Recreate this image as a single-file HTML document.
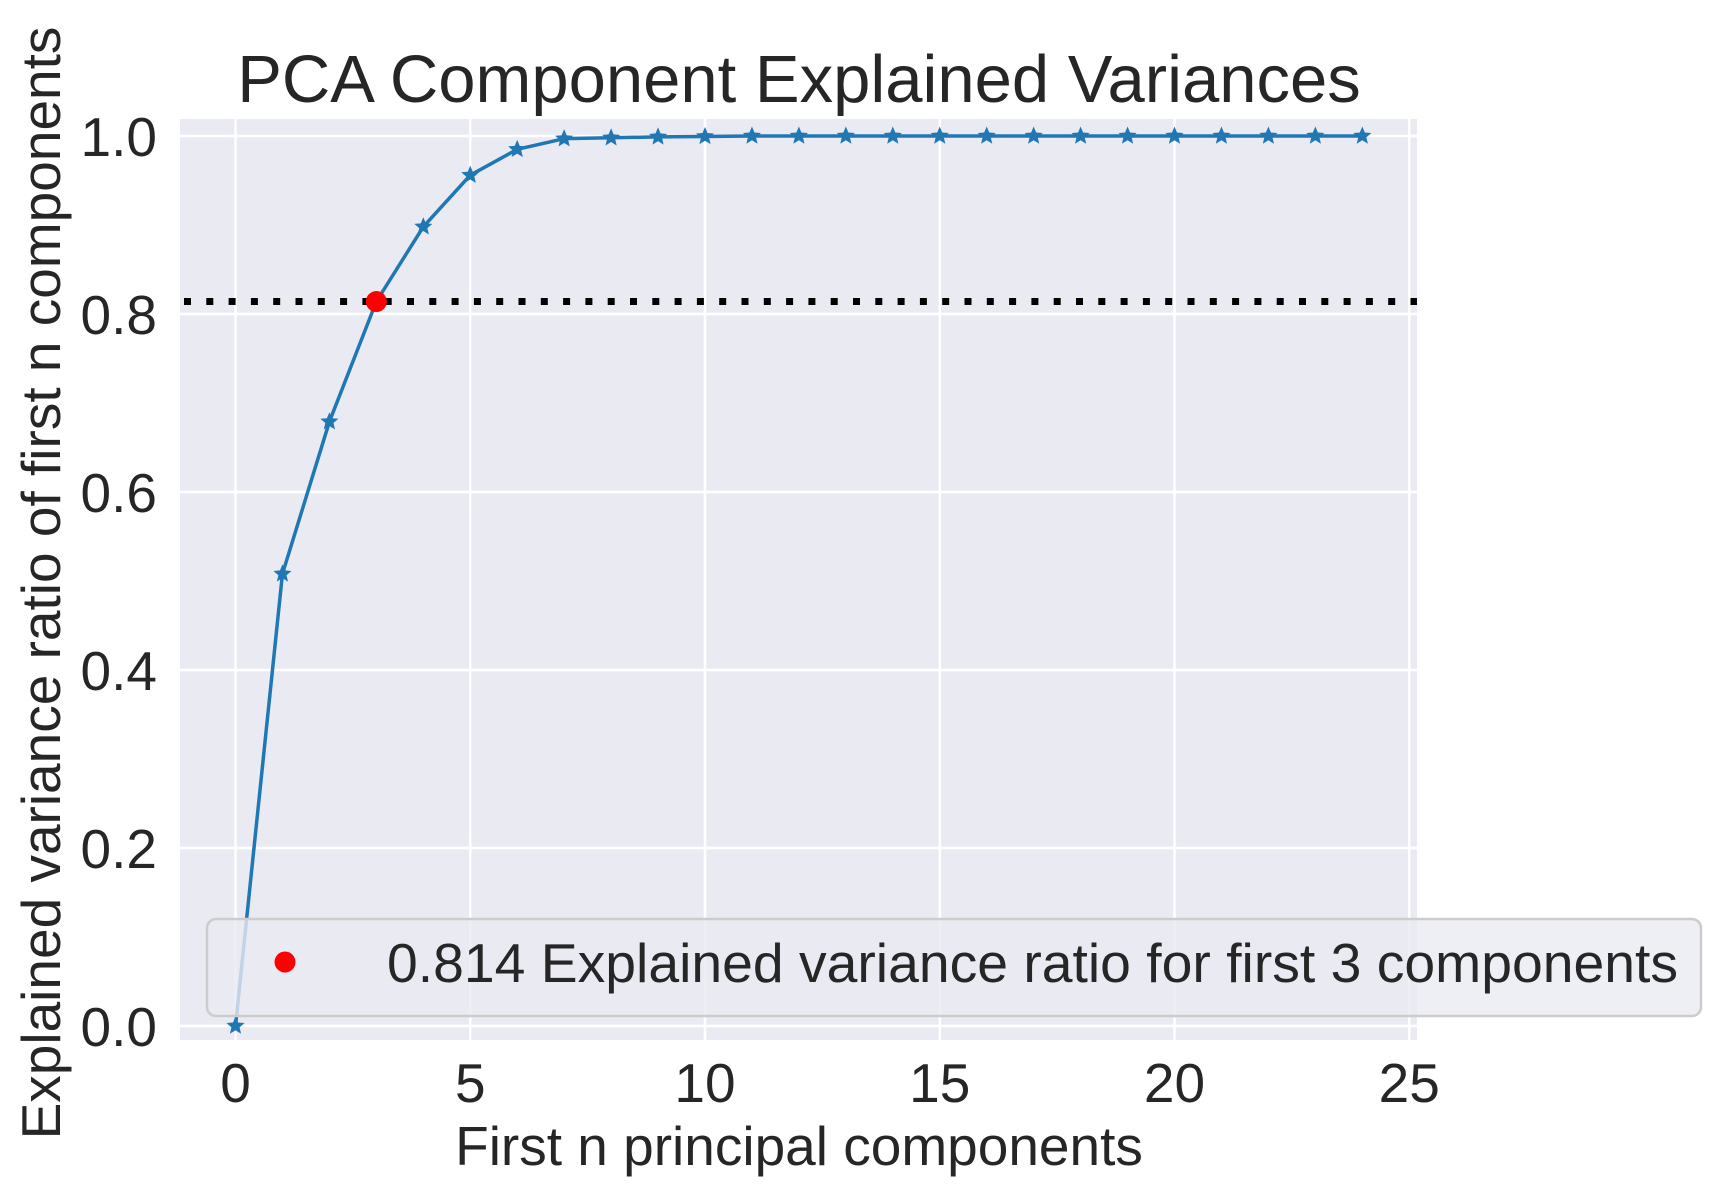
<!DOCTYPE html>
<html><head><meta charset="utf-8"><style>
html,body{margin:0;padding:0;background:#fff}
svg{display:block;font-family:"Liberation Sans",Arial,sans-serif}
</style></head><body>
<svg id="chart" width="1721" height="1195" viewBox="0 0 1721 1195" xmlns="http://www.w3.org/2000/svg">
<rect x="180" y="119" width="1237" height="921" fill="#EAEAF2"/>
<g id="grid"></g>
<g id="ticks" fill="#262626" font-size="55"></g>
<line id="thresh" stroke="#000" stroke-width="7" stroke-dasharray="7 15.3"/>
<path id="series" fill="none" stroke="#1f77b4" stroke-width="3.5" stroke-linejoin="round"/>
<g id="stars" fill="#1f77b4"></g>
<circle id="hl" r="10.5" fill="#ff0000"/>
<g>
<rect x="207" y="919" width="1494" height="97" rx="9" fill="#EAEAF2" fill-opacity="0.8" stroke="#cccccc" stroke-width="2.5"/>
<ellipse cx="285" cy="962" rx="10.5" ry="10.5" fill="#ff0000"/>
<text x="387" y="982" font-size="55" fill="#262626" textLength="1291" lengthAdjust="spacingAndGlyphs">0.814 Explained variance ratio for first 3 components</text>
</g>
<text x="799" y="102" font-size="67" fill="#262626" text-anchor="middle">PCA Component Explained Variances</text>
<text x="799" y="1165" font-size="55" fill="#262626" text-anchor="middle">First n principal components</text>
<text transform="translate(60,583) rotate(-90)" font-size="55" fill="#262626" text-anchor="middle">Explained variance ratio of first n components</text>
</svg>
<script>
const components = [0,1,2,3,4,5,6,7,8,9,10,11,12,13,14,15,16,17,18,19,20,21,22,23,24];
const cumVariance = [0,0.508,0.679,0.814,0.898,0.956,0.985,0.997,0.998,0.999,0.9995,1,1,1,1,1,1,1,1,1,1,1,1,1,1];
const threshold = [0.814];
const highlightIndex = [3];
const xTicks = [0,5,10,15,20,25];
const yTicks = [0,0.2,0.4,0.6,0.8,1.0];
const yTickLabels = ["0.0","0.2","0.4","0.6","0.8","1.0"];

const PL=180, PR=1417, PT=119, PB=1040;
function xs(v){return 235.5 + v*46.95;}
function ys(v){return 1026 - v*890;}
const NS="http://www.w3.org/2000/svg";
const grid=document.getElementById('grid'), ticks=document.getElementById('ticks');
function mk(tag,attrs,parent){const e=document.createElementNS(NS,tag);for(const k in attrs)e.setAttribute(k,attrs[k]);parent.appendChild(e);return e;}
xTicks.forEach(t=>{
  const l=mk('line',{x1:xs(t),x2:xs(t),y1:PT,y2:PB,stroke:'#fff','stroke-width':2.5},grid);
  
  
  const tx=mk('text',{x:xs(t),y:1102,'text-anchor':'middle'},ticks);
  tx.textContent=String(t);
  
  
});
yTicks.forEach((t,i)=>{
  const l=mk('line',{x1:PL,x2:PR,y1:ys(t),y2:ys(t),stroke:'#fff','stroke-width':2.5},grid);
  
  
  const tx=mk('text',{x:157,y:ys(t)+20,'text-anchor':'end'},ticks);
  tx.textContent=yTickLabels[i];
  
  
});
const th=document.getElementById('thresh');
th.setAttribute('x1',PL+4);th.setAttribute('x2',PR);
th.setAttribute('y1',ys(threshold[0]));th.setAttribute('y2',ys(threshold[0]));
document.getElementById('series').setAttribute('d',components.map((c,i)=>(i?'L':'M')+xs(c)+' '+ys(cumVariance[i])).join(' '));
function starPath(cx,cy,R){const r=R*0.45;let d='';for(let k=0;k<10;k++){const a=-Math.PI/2+k*Math.PI/5;const rr=k%2?r:R;d+=(k?'L':'M')+(cx+rr*Math.cos(a)).toFixed(2)+' '+(cy+rr*Math.sin(a)).toFixed(2);}return d+'Z';}
const stars=document.getElementById('stars');
components.forEach((c,i)=>{
  const p=mk('path',{d:starPath(xs(c),ys(cumVariance[i]),9.5)},stars);
  
  
});
const hi=highlightIndex[0];
const hl=document.getElementById('hl');
hl.setAttribute('cx',xs(components[hi]));hl.setAttribute('cy',ys(threshold[0]));
</script>
</body></html>
